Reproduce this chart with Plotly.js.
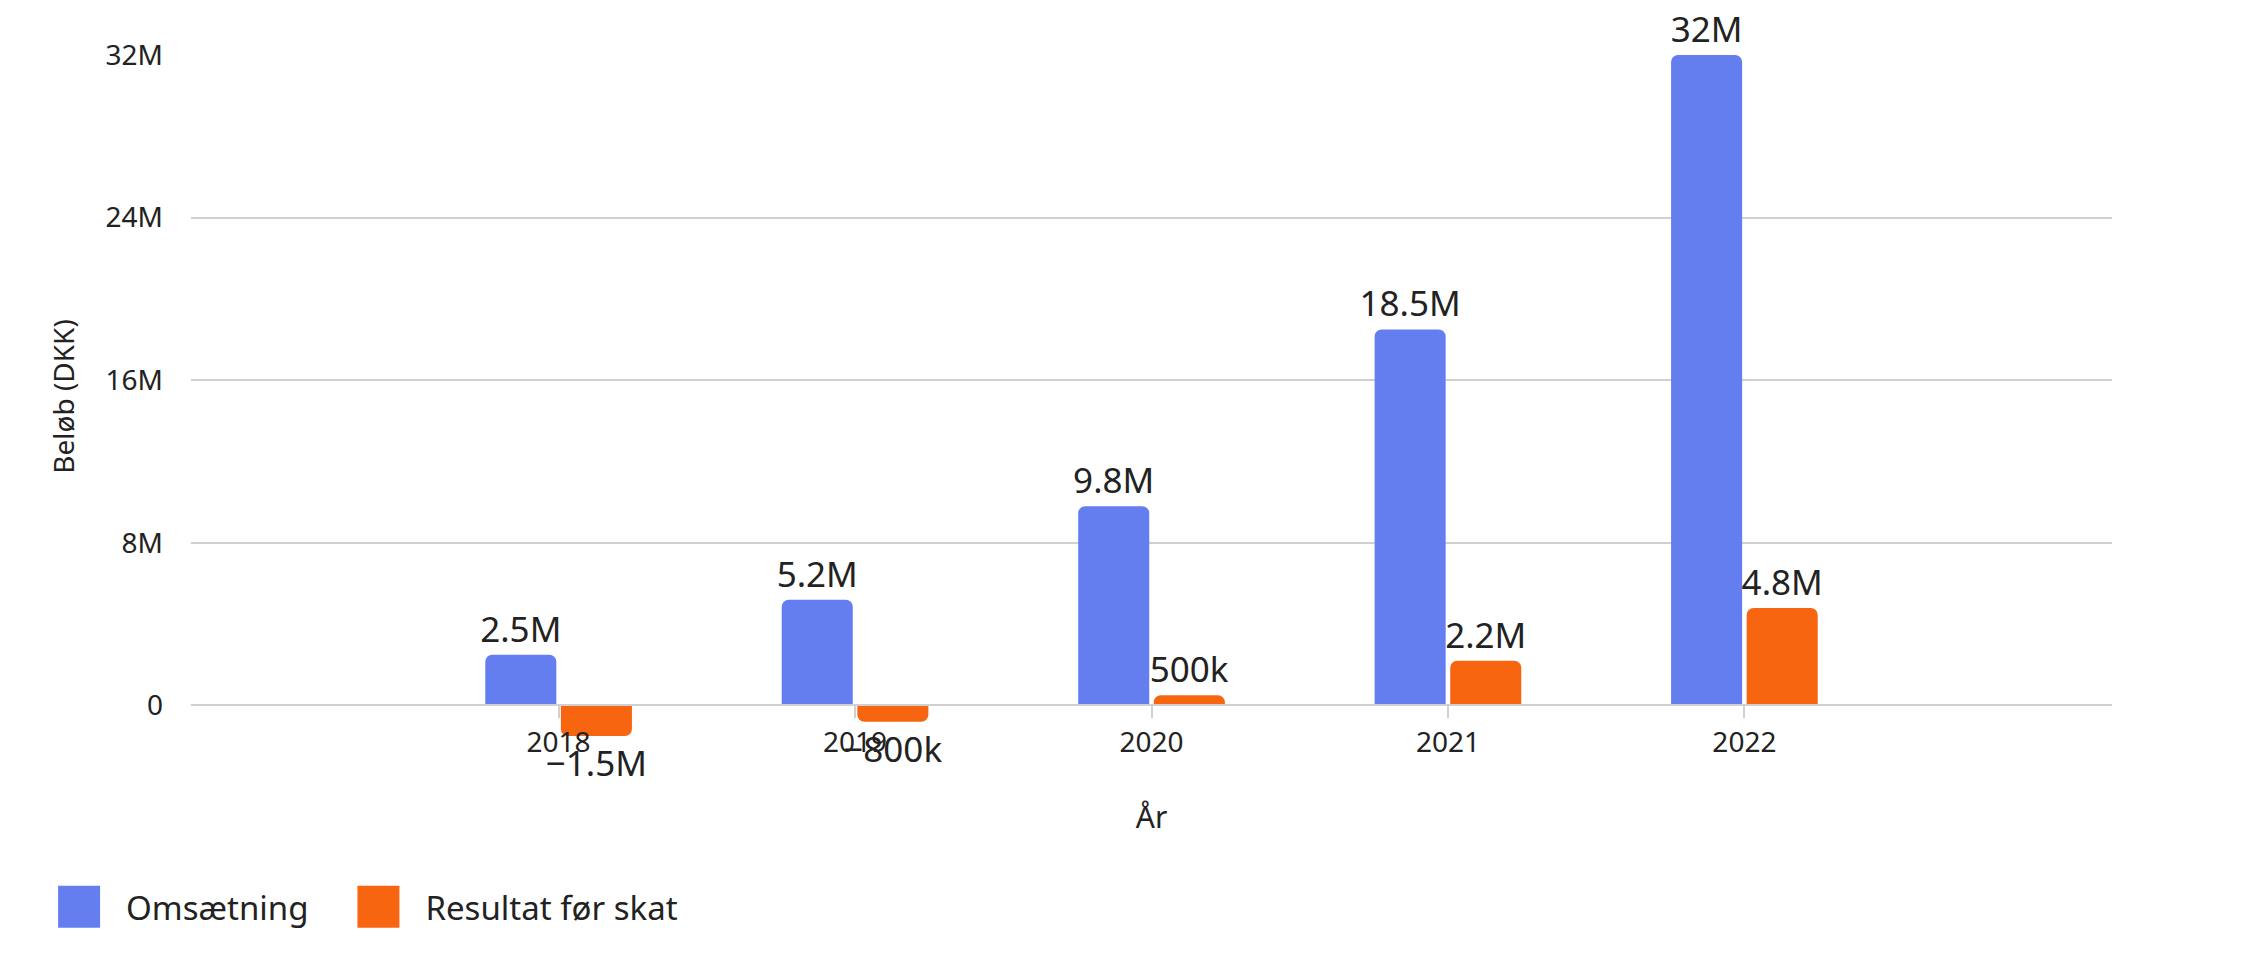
<!DOCTYPE html>
<html>
<head>
<meta charset="utf-8">
<script src="https://cdn.plot.ly/plotly-3.0.1.min.js"></script>
<style>
  body { margin: 0; background: #fff; }
  #chart { width: 2244px; height: 954px; }
</style>
</head>
<body>
<div id="chart"></div>
<script>
var years = ["2018", "2019", "2020", "2021", "2022"];
var omsaetning = [2500000, 5200000, 9800000, 18500000, 32000000];
var resultat = [-1500000, -800000, 500000, 2200000, 4800000];
var yTicks = [0, 8000000, 16000000, 24000000, 32000000];

var font = "Noto Sans, Open Sans, sans-serif";
var yMin = -1600000, yMax = 32000000;

// short labels like 2.5M, 500k, −1.5M
function fmt(v) {
  var a = Math.abs(v), s;
  if (a >= 1e6) s = parseFloat((a / 1e6).toFixed(1)) + "M";
  else if (a >= 1e3) s = parseFloat((a / 1e3).toFixed(1)) + "k";
  else s = String(a);
  return (v < 0 ? "\u2212" : "") + s;
}

var trace1 = {
  x: years,
  y: omsaetning,
  name: "Omsætning",
  type: "bar",
  legend: "legend",
  marker: { color: "#647ef0", cornerradius: 7 },
  text: omsaetning.map(fmt),
  texttemplate: "%{text}",
  textposition: "outside",
  constraintext: "none",
  cliponaxis: false,
  textfont: { size: 35, color: "#222" }
};
var trace2 = {
  x: years,
  y: resultat,
  name: "Resultat før skat",
  type: "bar",
  legend: "legend2",
  marker: { color: "#f76511", cornerradius: 7 },
  text: resultat.map(fmt),
  texttemplate: "%{text}",
  textposition: "outside",
  constraintext: "none",
  cliponaxis: false,
  textfont: { size: 35, color: "#222" }
};

var legendBase = {
  orientation: "h",
  xref: "container",
  yref: "container",
  y: 0.02,
  xanchor: "left",
  yanchor: "bottom",
  itemwidth: 84,
  font: { size: 33, color: "#222" }
};

var layout = {
  width: 2244,
  height: 954,
  font: { family: font, color: "#222" },
  paper_bgcolor: "#fff",
  plot_bgcolor: "#fff",
  margin: { l: 191, r: 132, t: 55, b: 216 },
  barmode: "group",
  bargap: 0.49,
  bargroupgap: 0.06,
  xaxis: {
    type: "category",
    range: [-1.24, 5.24],
    anchor: "free",
    position: -yMin / (yMax - yMin),
    showgrid: false,
    showline: true,
    linecolor: "#d0d0d0",
    linewidth: 2,
    ticks: "outside",
    ticklen: 12,
    tickwidth: 2,
    tickcolor: "#d0d0d0",
    tickfont: { size: 28 },
    title: { text: "År", font: { size: 30 }, standoff: 47 }
  },
  yaxis: {
    range: [yMin, yMax],
    tickvals: yTicks,
    tickformat: "~s",
    showgrid: true,
    gridcolor: "#d0d0d0",
    gridwidth: 2,
    zeroline: false,
    showline: false,
    ticklen: 0,
    ticklabelstandoff: 27,
    tickfont: { size: 28 },
    title: { text: "Beløb (DKK)", font: { size: 28 }, standoff: 22 }
  },
  showlegend: true,
  legend: Object.assign({}, legendBase, { x: 0.0143 }),
  legend2: Object.assign({}, legendBase, { x: 0.1477 })
};

Plotly.newPlot("chart", [trace1, trace2], layout, { staticPlot: true }).then(function () {
  // bigger legend squares like the original
  document.querySelectorAll(".legendpoints path").forEach(function (p) {
    p.setAttribute("d", "M21,21H-21V-21H21Z");
  });
});
</script>
</body>
</html>
